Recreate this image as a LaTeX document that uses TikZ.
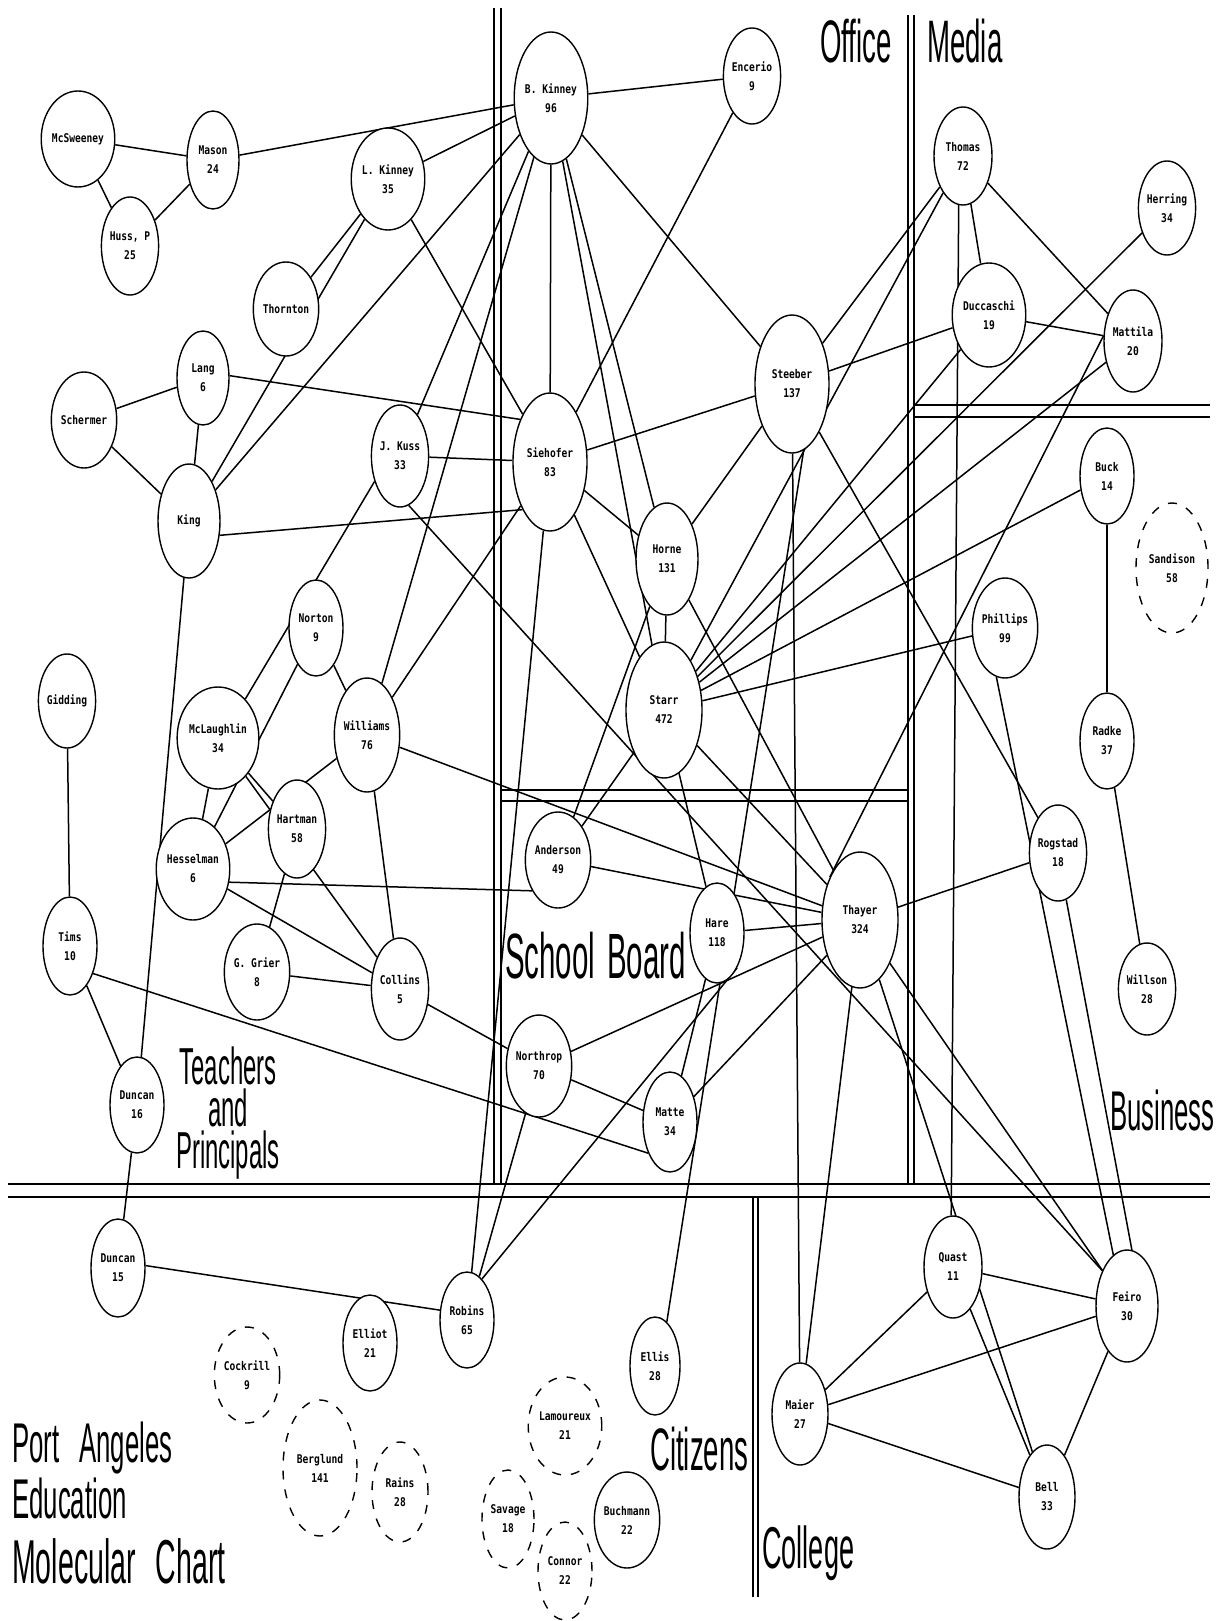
\documentclass[tikz,border=0pt]{standalone}
\usepackage{fontspec}
\usetikzlibrary{shapes.geometric}
\newfontfamily\nodefont[FakeStretch=0.8]{DejaVu Sans Mono}
\newfontfamily\regionfont[FakeStretch=0.46]{Liberation Sans}
\pgfdeclarelayer{bg}
\pgfsetlayers{bg,main}
% one person: style, name, centre, label, width, height
\newcommand\pers[6][person]{\node[#1, minimum width=#5pt, minimum height=#6pt] (#2) at (#3) {#4};}
\newcommand\wordgap{\hspace{20pt}}
\begin{document}
\begin{tikzpicture}[x=1pt,y=-1pt,
  person/.style={ellipse, draw, line width=1.4pt, fill=white, inner sep=0pt, align=center,
    font=\nodefont\bfseries\fontsize{12}{19}\selectfont},
  ghost/.style={person, dash pattern=on 9pt off 10pt},
  tie/.style={line width=1.5pt},
  wall/.style={line width=1.6pt},
  region/.style={inner sep=0pt, anchor=base west}]
\useasboundingbox (0,0) rectangle (1218,1621);

% ---- teachers and principals
\pers{mcs}{78,139}{McSweeney}{52}{96}
\pers{mason}{213,160}{Mason\\24}{52}{98}
\pers{huss}{130,246}{Huss, P\\25}{52}{98}
\pers{lkin}{388,179}{L. Kinney\\35}{54}{102}
\pers{thorn}{286,309}{Thornton}{48}{94}
\pers{lang}{203,378}{Lang\\6}{52}{94}
\pers{scher}{84,420}{Schermer}{52}{96}
\pers{king}{189,521}{King}{62}{114}
\pers{jkuss}{400,456}{J. Kuss\\33}{56}{102}
\pers{norton}{316,628}{Norton\\9}{54}{96}
\pers{mcl}{218,738}{McLaughlin\\34}{56}{102}
\pers{will}{367,735}{Williams\\76}{64}{114}
\pers{gidd}{67,701}{Gidding}{50}{94}
\pers{hess}{193,869}{Hesselman\\6}{54}{102}
\pers{hart}{297,829}{Hartman\\58}{54}{98}
\pers{tims}{70,946}{Tims\\10}{54}{98}
\pers{grier}{257,972}{G. Grier\\8}{54}{96}
\pers{collins}{400,989}{Collins\\5}{56}{102}
\pers{dunA}{137,1105}{Duncan\\16}{54}{96}

% ---- office and school board
\pers{bkin}{551,98}{B. Kinney\\96}{72}{132}
\pers{enc}{752,76}{Encerio\\9}{54}{96}
\pers{steeb}{792,384}{Steeber\\137}{74}{138}
\pers{sieh}{550,462}{Siehofer\\83}{74}{138}
\pers{horne}{667,559}{Horne\\131}{62}{112}
\pers{starr}{664,710}{Starr\\472}{76}{136}
\pers{anders}{558,860}{Anderson\\49}{54}{96}
\pers{hare}{717,933}{Hare\\118}{54}{100}
\pers{thayer}{860,920}{Thayer\\324}{76}{136}
\pers{north}{539,1066}{Northrop\\70}{56}{102}
\pers{matte}{670,1122}{Matte\\34}{54}{100}

% ---- media and business
\pers{thomas}{963,156}{Thomas\\72}{58}{98}
\pers{herring}{1167,208}{Herring\\34}{50}{94}
\pers{ducc}{989,315}{Duccaschi\\19}{56}{104}
\pers{mattila}{1133,341}{Mattila\\20}{58}{102}
\pers{buck}{1107,476}{Buck\\14}{54}{96}
\pers[ghost]{sand}{1172,568}{Sandison\\58}{72}{130}
\pers{phil}{1005,628}{Phillips\\99}{54}{100}
\pers{radke}{1107,741}{Radke\\37}{54}{96}
\pers{rog}{1058,853}{Rogstad\\18}{50}{96}
\pers{willson}{1147,989}{Willson\\28}{50}{92}

% ---- citizens
\pers{dunB}{118,1268}{Duncan\\15}{54}{98}
\pers{robins}{467,1320}{Robins\\65}{54}{96}
\pers{elliot}{370,1343}{Elliot\\21}{54}{96}
\pers[ghost]{cock}{247,1375}{Cockrill\\9}{54}{96}
\pers[ghost]{berg}{320,1468}{Berglund\\141}{74}{136}
\pers[ghost]{rains}{400,1492}{Rains\\28}{56}{100}
\pers{ellis}{655,1366}{Ellis\\28}{50}{98}
\pers[ghost]{lamo}{565,1426}{Lamoureux\\21}{54}{98}
\pers[ghost]{savage}{508,1519}{Savage\\18}{52}{98}
\pers[ghost]{connor}{565,1571}{Connor\\22}{54}{98}
\pers{buch}{627,1520}{Buchmann\\22}{50}{96}

% ---- college
\pers{maier}{800,1414}{Maier\\27}{56}{102}
\pers{quast}{953,1267}{Quast\\11}{58}{102}
\pers{feiro}{1127,1306}{Feiro\\30}{62}{112}
\pers{bell}{1047,1497}{Bell\\33}{56}{104}

% ---- group names
\node[region, font=\regionfont\fontsize{60}{60}\selectfont] (lboffice) at (820,63) {Office};
\node[region, font=\regionfont\fontsize{60}{60}\selectfont] (lbmedia) at (927,63) {Media};
\node[region, font=\regionfont\fontsize{64}{64}\selectfont] (lbboard) at (505,978) {School\hspace{12pt}Board};
\node[inner sep=0pt, anchor=north, align=center,
      font=\regionfont\fontsize{52}{42}\selectfont] (lbteach) at (228,1047) {Teachers\\and\\Principals};
\node[region, font=\regionfont\fontsize{56}{56}\selectfont] (lbbusiness) at (1110,1130) {Business};
\node[region, font=\regionfont\fontsize{60}{60}\selectfont] (lbcitizens) at (650,1470) {Citizens};
\node[region, font=\regionfont\fontsize{59}{59}\selectfont] (lbcollege) at (762,1568) {College};
\node[region, font=\regionfont\fontsize{56}{56}\selectfont] (lbtitleA) at (12,1462) {Port\wordgap Angeles};
\node[region, font=\regionfont\fontsize{56}{56}\selectfont] (lbtitleB) at (12,1518) {Education};
\node[region, font=\regionfont\fontsize{62}{62}\selectfont] (lbtitleC) at (12,1583) {Molecular\wordgap Chart};

\begin{pgfonlayer}{bg}
  \fill[white] (0,0) rectangle (1218,1621);
  % double walls between the groups
  \draw[wall] (494,8) -- (494,1184) (501,8) -- (501,1184);
  \draw[wall] (908,15) -- (908,1184) (914,15) -- (914,1184);
  \draw[wall] (501,790) -- (908,790) (501,801) -- (908,801);
  \draw[wall] (914,405) -- (1210,405) (914,417) -- (1210,417);
  \draw[wall] (8,1184) -- (1210,1184) (8,1197) -- (1210,1197);
  \draw[wall] (753,1197) -- (753,1597) (758,1197) -- (758,1597);
  % contacts drawn centre to centre
  \foreach \a/\b in {mcs/mason, mcs/huss, huss/mason, mason/bkin,
    lkin/bkin, lkin/thorn, lkin/king, lkin/sieh,
    bkin/king, bkin/jkuss, bkin/will, bkin/sieh, bkin/horne, bkin/starr, bkin/steeb, bkin/enc,
    enc/sieh, lang/scher, lang/king, scher/king, king/dunA,
    jkuss/sieh,
    norton/hess, norton/will, hess/will, mcl/hess, mcl/hart, mcl/collins, hart/grier,
    hess/collins, grier/collins, will/collins, will/thayer, will/sieh,
    collins/north, tims/dunA, gidd/tims, dunA/dunB,
    north/matte, north/thayer, north/robins, sieh/robins,
    steeb/sieh, steeb/thomas, steeb/ducc, steeb/horne, steeb/maier, steeb/rog,
    sieh/horne, sieh/starr, horne/starr, horne/anders, horne/thayer,
    starr/anders, starr/thayer, starr/hare, starr/thomas, starr/ducc, starr/mattila, starr/buck, starr/phil,
    herring/starr,
    anders/thayer, hare/thayer, matte/hare, matte/thayer,
    thomas/ducc, thomas/mattila, ducc/mattila,
    thayer/rog, thayer/feiro, thayer/bell, thayer/maier,
    buck/radke, radke/willson,
    quast/feiro, quast/maier, quast/bell, maier/feiro, maier/bell, feiro/bell}
    \draw[tie] (\a) -- (\b);
  % contacts that leave from a given side of a person
  \draw[tie] (lang.5) -- (sieh.125);
  \draw[tie] (king.-25) -- (sieh.240);
  \draw[tie] (jkuss.225) -- (mcl.55);
  \draw[tie] (jkuss.-80) -- (feiro.125);
  \draw[tie] (hess.-20) -- (anders.230);
  \draw[tie] (tims.-50) -- (matte.235);
  \draw[tie] (dunB.5) -- (robins.160);
  \draw[tie] (robins.70) -- (hare.-60);
  \draw[tie] (steeb.-80) -- (ellis.75);
  \draw[tie] (thomas.265) -- (quast.92);
  \draw[tie] (mattila.170) -- (thayer.125);
  \draw[tie] (phil.-100) -- (feiro.105);
  \draw[tie] (rog.-80) -- (feiro.85);
\end{pgfonlayer}
\end{tikzpicture}
\end{document}
